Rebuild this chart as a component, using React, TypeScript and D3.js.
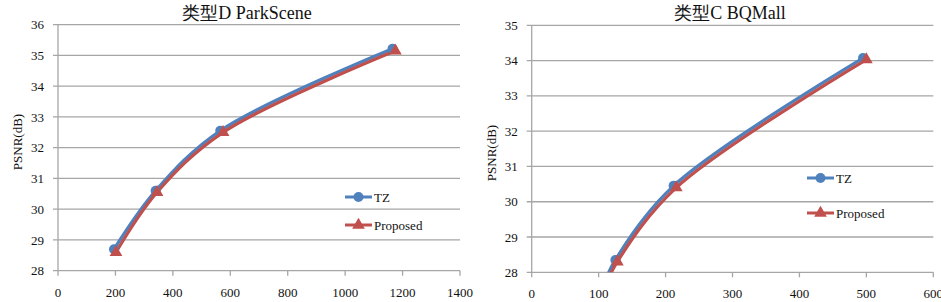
import React from "react";
import * as d3 from "d3";

const leftTitle = "类型D ParkScene";
const rightTitle = "类型C BQMall";
const yLabel = "PSNR(dB)";
const seriesNames = ["TZ", "Proposed"];

const leftTZx = [195, 340, 565, 1165];
const leftTZy = [28.7, 30.6, 32.55, 35.22];
const leftPropX = [202, 345, 575, 1175];
const leftPropY = [28.6, 30.55, 32.5, 35.15];
const leftXTicks = [0, 200, 400, 600, 800, 1000, 1200, 1400];
const leftYTicks = [28, 29, 30, 31, 32, 33, 34, 35, 36];

const rightTZx = [100, 125, 212, 495];
const rightTZy = [27.3, 28.35, 30.45, 34.07];
const rightPropX = [100, 128, 216, 500];
const rightPropY = [27.2, 28.3, 30.4, 34.03];
const rightXTicks = [0, 100, 200, 300, 400, 500, 600];
const rightYTicks = [28, 29, 30, 31, 32, 33, 34, 35];

const BLUE = "#4F81BD";
const RED = "#C0504D";
const GRID = "#a6a6a6";
const FONT = "'Liberation Serif', 'Times New Roman', serif";

type PanelProps = {
  id: string;
  title: string;
  titleX: number;
  x0: number; x1: number; y0: number; y1: number;
  xTicks: number[]; yTicks: number[];
  tzX: number[]; tzY: number[]; prX: number[]; prY: number[];
  hiddenFirst: boolean;
  labelX: number; labelY: number;
  legX: number; legY1: number; legY2: number;
};

function Panel(p: PanelProps) {
  const x = d3.scaleLinear().domain([p.xTicks[0], p.xTicks[p.xTicks.length - 1]]).range([p.x0, p.x1]);
  const y = d3.scaleLinear().domain([p.yTicks[0], p.yTicks[p.yTicks.length - 1]]).range([p.y1, p.y0]);
  const line = d3.line<[number, number]>().x(d => x(d[0])).y(d => y(d[1])).curve(d3.curveCatmullRom.alpha(0.5));
  const tz: [number, number][] = p.tzX.map((v, i) => [v, p.tzY[i]]);
  const pr: [number, number][] = p.prX.map((v, i) => [v, p.prY[i]]);
  const start = p.hiddenFirst ? 1 : 0;
  const tri = d3.symbol().type(d3.symbolTriangle).size(70)();
  return (
    <g>
      <defs>
        <clipPath id={p.id}>
          <rect x={p.x0} y={p.y0 - 10} width={p.x1 - p.x0 + 10} height={p.y1 - p.y0 + 10} />
        </clipPath>
      </defs>
      {p.yTicks.map(t => (
        <g key={"gy" + t}>
          <line x1={p.x0 - 5} x2={p.x1} y1={y(t)} y2={y(t)} stroke={GRID} strokeWidth={1.3} />
          <text x={p.x0 - 14} y={y(t)} dy="0.35em" textAnchor="end" fontFamily={FONT} fontSize={13} fill="#111">{t}</text>
        </g>
      ))}
      <line x1={p.x0} x2={p.x0} y1={p.y0} y2={p.y1} stroke={GRID} strokeWidth={1.3} />
      {p.xTicks.map(t => (
        <g key={"gx" + t}>
          <line x1={x(t)} x2={x(t)} y1={p.y1} y2={p.y1 + 5} stroke={GRID} strokeWidth={1.3} />
          <text x={x(t)} y={p.y1 + 26} textAnchor="middle" fontFamily={FONT} fontSize={13} fill="#111">{t}</text>
        </g>
      ))}
      <text x={p.titleX} y={19} textAnchor="middle" fontFamily={FONT} fontSize={18} fill="#111">{p.title}</text>
      <text transform={`translate(${p.labelX},${p.labelY}) rotate(-90)`} textAnchor="middle" dy="0.35em" fontFamily={FONT} fontSize={13} fill="#111">{yLabel}</text>
      <g clipPath={`url(#${p.id})`}>
        <path d={line(tz) || ""} fill="none" stroke={BLUE} strokeWidth={3.2} />
        <path d={line(pr) || ""} fill="none" stroke={RED} strokeWidth={3.2} />
      </g>
      {tz.slice(start).map((d, i) => (
        <circle key={"c" + i} cx={x(d[0])} cy={y(d[1])} r={5} fill={BLUE} />
      ))}
      {pr.slice(start).map((d, i) => (
        <path key={"t" + i} d={tri || ""} transform={`translate(${x(d[0])},${y(d[1])})`} fill={RED} />
      ))}
      <line x1={p.legX} x2={p.legX + 27} y1={p.legY1} y2={p.legY1} stroke={BLUE} strokeWidth={3} />
      <circle cx={p.legX + 13.5} cy={p.legY1} r={5} fill={BLUE} />
      <text x={p.legX + 29} y={p.legY1} dy="0.35em" fontFamily={FONT} fontSize={13} fill="#111">{seriesNames[0]}</text>
      <line x1={p.legX} x2={p.legX + 27} y1={p.legY2} y2={p.legY2} stroke={RED} strokeWidth={3} />
      <path d={tri || ""} transform={`translate(${p.legX + 13.5},${p.legY2})`} fill={RED} />
      <text x={p.legX + 29} y={p.legY2} dy="0.35em" fontFamily={FONT} fontSize={13} fill="#111">{seriesNames[1]}</text>
    </g>
  );
}

export default function App() {
  return (
    <svg width={941} height={302} style={{ position: "absolute", left: 0, top: 0, background: "#fff" }}>
      <rect width={941} height={302} fill="#fff" />
      <Panel id="clipL" title={leftTitle} titleX={247} x0={58} x1={460} y0={24.7} y1={270.7}
        xTicks={leftXTicks} yTicks={leftYTicks} tzX={leftTZx} tzY={leftTZy} prX={leftPropX} prY={leftPropY}
        hiddenFirst={false} labelX={17} labelY={142} legX={345} legY1={197} legY2={225} />
      <Panel id="clipR" title={rightTitle} titleX={730} x0={531.7} x1={933.3} y0={25.3} y1={272.3}
        xTicks={rightXTicks} yTicks={rightYTicks} tzX={rightTZx} tzY={rightTZy} prX={rightPropX} prY={rightPropY}
        hiddenFirst={true} labelX={491} labelY={153} legX={807} legY1={178} legY2={213} />
    </svg>
  );
}
